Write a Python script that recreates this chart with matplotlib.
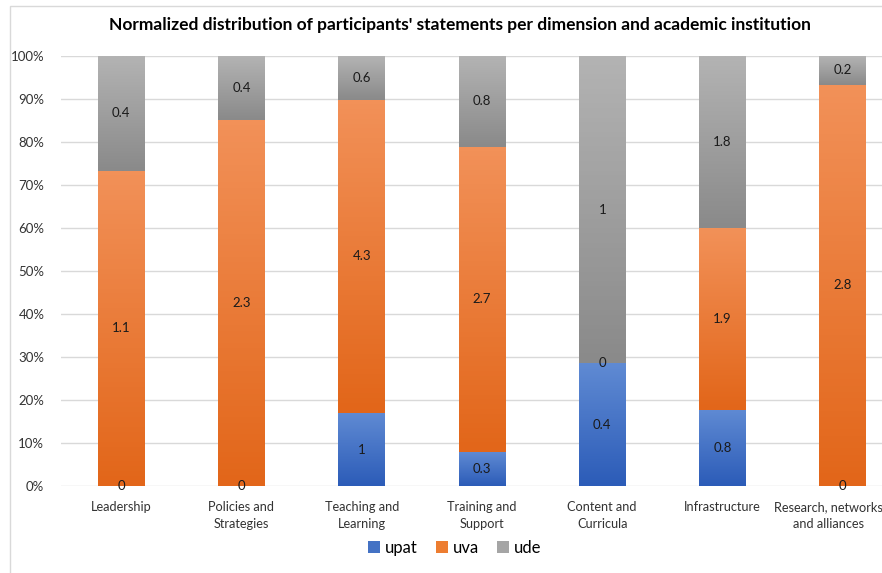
import numpy as np
import matplotlib.pyplot as plt
from matplotlib.colors import LinearSegmentedColormap
from matplotlib.patches import Rectangle
from matplotlib.transforms import ScaledTranslation

plt.rcParams['font.family'] = ['Lato', 'DejaVu Sans']

categories = ['Leadership', 'Policies and\nStrategies', 'Teaching and\nLearning',
              'Training and\nSupport', 'Content and\nCurricula', 'Infrastructure',
              'Research, networks\nand alliances']
upat = [0, 0, 1, 0.3, 0.4, 0.8, 0]
uva = [1.1, 2.3, 4.3, 2.7, 0, 1.9, 2.8]
ude = [0.4, 0.4, 0.6, 0.8, 1, 1.8, 0.2]
series = ['upat', 'uva', 'ude']
# (bottom colour, top colour) of each segment's gradient
grads = [('#2c5cb8', '#5f8ad3'), ('#e2661a', '#f29158'), ('#8a8a8a', '#b3b3b3')]
solid = ['#4472c4', '#ed7d31', '#a5a5a5']

fig = plt.figure(figsize=(8.82, 5.73), dpi=100)
fig.patches.append(Rectangle((10 / 882, -0.01), 1.0, 1 - 6 / 573 + 0.01, transform=fig.transFigure,
                             fill=False, edgecolor='#d9d9d9', linewidth=1))
ax = fig.add_axes([61 / 882, 1 - 486 / 573, 821 / 882, 430 / 573])

vals = np.array([upat, uva, ude], dtype=float)
pct = vals / vals.sum(axis=0) * 100
x = np.arange(len(categories))
w = 0.39

bottom = np.zeros(len(categories))
for i, name in enumerate(series):
    cmap = LinearSegmentedColormap.from_list(name, grads[i])
    grad = np.linspace(0, 1, 64).reshape(-1, 1)
    for j in range(len(categories)):
        h = pct[i, j]
        if h > 0:
            ax.imshow(grad, cmap=cmap, origin='lower', aspect='auto',
                      extent=(x[j] - w / 2, x[j] + w / 2, bottom[j], bottom[j] + h), zorder=2)
        ax.text(x[j], bottom[j] + h / 2, f'{vals[i, j]:g}', ha='center', va='center',
                fontsize=9.5, color='#1a1a1a', zorder=3)
    ax.bar(0, 0, color=solid[i], label=name)
    bottom += pct[i]

ax.set_xlim(-0.5, 6.5 - 21 / 120.7)
ax.set_ylim(0, 100)
ax.set_yticks(np.arange(0, 101, 10))
ax.set_yticklabels([f'{t}%' for t in range(0, 101, 10)], fontsize=9.5, color='#333333')
ax.set_xticks(x)
ax.set_xticklabels(categories, fontsize=9.2, color='#333333', linespacing=1.45)
ax.tick_params(length=0)
ax.tick_params(axis='x', pad=11)
ax.tick_params(axis='y', pad=12)
# last label sits against the right edge in the original
last = ax.get_xticklabels()[-1]
last.set_transform(last.get_transform() + ScaledTranslation(-0.14, 0, fig.dpi_scale_trans))
ax.grid(axis='y', color='#d9d9d9', linewidth=1, zorder=0)
ax.set_axisbelow(True)
for s in ax.spines.values():
    s.set_visible(False)

fig.suptitle("Normalized distribution of participants' statements per dimension and academic institution",
             x=460 / 882, y=1 - 25 / 573, va='center', fontsize=12.5, fontweight='bold')
fig.legend(loc='center', bbox_to_anchor=(455 / 882, 1 - 548 / 573), ncol=3, frameon=False,
           fontsize=12, handlelength=0.7, handleheight=0.7, handletextpad=0.3, columnspacing=1.1)

fig.savefig('out.png', dpi=100)
